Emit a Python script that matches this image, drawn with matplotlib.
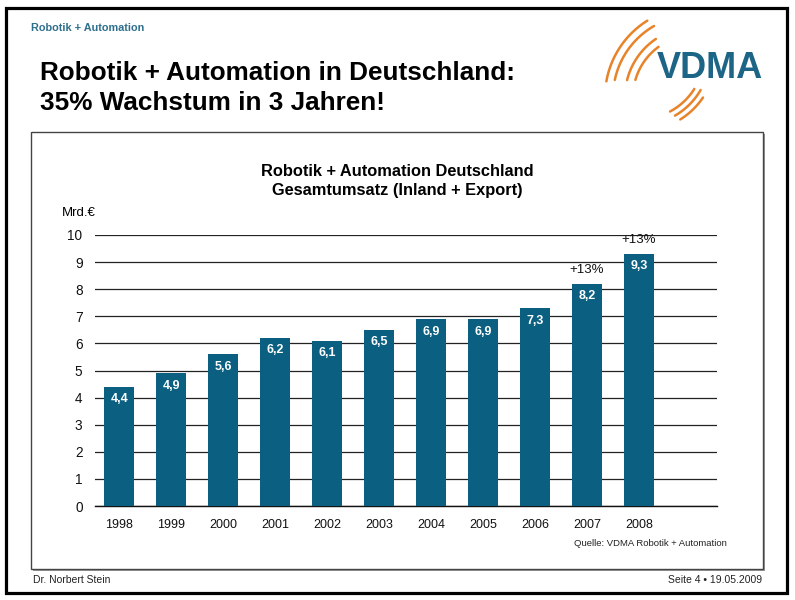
import numpy as np
import matplotlib
matplotlib.use('Agg')
import matplotlib.pyplot as plt
from matplotlib.patches import Rectangle

plt.rcParams['font.family'] = ['Liberation Sans', 'DejaVu Sans']

# data
years = ['1998', '1999', '2000', '2001', '2002', '2003', '2004', '2005', '2006', '2007', '2008']
umsatz = [4.4, 4.9, 5.6, 6.2, 6.1, 6.5, 6.9, 6.9, 7.3, 8.2, 9.3]
growth = {'2007': '+13%', '2008': '+13%'}
y_ticks = list(range(0, 11))

W, H = 795, 600
bar_color = '#0B5F80'
teal = '#2D6F8C'
orange = '#E8832A'

fig = plt.figure(figsize=(W / 100, H / 100), dpi=100)

# overlay in pixel coords for slide decoration
deco = fig.add_axes([0, 0, 1, 1])
deco.set_xlim(0, W)
deco.set_ylim(H, 0)
deco.axis('off')

# outer slide border
deco.add_patch(Rectangle((6, 8), 781, 585, fill=False, edgecolor='black', linewidth=2.3))
# chart frame with shadow
deco.add_patch(Rectangle((33, 134), 732, 437, facecolor='#9a9a9a', edgecolor='none'))
deco.add_patch(Rectangle((31, 132), 732, 437, facecolor='white', edgecolor='#444444', linewidth=1.0))

# header texts
deco.text(31, 28, 'Robotik + Automation', fontsize=7.8, fontweight='bold', color=teal, va='center')
deco.text(40, 73, 'Robotik + Automation in Deutschland:', fontsize=18.8, fontweight='bold', va='center')
deco.text(40, 103, '35% Wachstum in 3 Jahren!', fontsize=18.8, fontweight='bold', va='center')

# VDMA logo
deco.text(710, 69, 'VDMA', fontsize=26, fontweight='bold', color='#1C6586', ha='center', va='center')
for r, a0, a1 in [(90, 122, 170), (82, 120, 168), (70, 124, 166), (62, 126, 164)]:
    t = np.radians(np.linspace(a0, a1, 50))
    deco.plot(695 + r * np.cos(t), 97 - r * np.sin(t), color=orange, lw=1.8, solid_capstyle='round')
for r, a0, a1 in [(64, -62, -32), (70, -60, -30), (76, -58, -34)]:
    t = np.radians(np.linspace(a0, a1, 50))
    deco.plot(640 + r * np.cos(t), 55 - r * np.sin(t), color=orange, lw=1.8, solid_capstyle='round')

# chart titles
deco.text(397, 172, 'Robotik + Automation Deutschland', fontsize=11.8, fontweight='bold', ha='center', va='center')
deco.text(397, 191, 'Gesamtumsatz (Inland + Export)', fontsize=11.8, fontweight='bold', ha='center', va='center')
deco.text(62, 213, 'Mrd.€', fontsize=9.5, va='center')

# footer
deco.text(727, 543, 'Quelle: VDMA Robotik + Automation', fontsize=6.8, ha='right', va='center', color='#222222')
deco.text(33, 580, 'Dr. Norbert Stein', fontsize=7.5, va='center', color='#222222')
deco.text(762, 580, 'Seite 4 • 19.05.2009', fontsize=7.5, ha='right', va='center', color='#222222')

# bar chart
ax = fig.add_axes([95 / W, 1 - 506 / H, (717 - 95) / W, (506 - 235) / H])
ax.patch.set_alpha(0)
x = np.arange(len(years))
bars = ax.bar(x, umsatz, width=0.58, color=bar_color, zorder=3)
ax.set_xlim(-0.47, 11.5)
ax.set_ylim(0, 10)
ax.set_yticks(y_ticks)
ax.set_xticks(x)
ax.set_xticklabels(years)
ax.tick_params(axis='both', length=0, labelsize=9, colors='#111111')
ax.tick_params(axis='y', pad=9, labelsize=9.8)
ax.tick_params(axis='x', pad=9)
for s in ['top', 'right', 'left']:
    ax.spines[s].set_visible(False)
ax.spines['bottom'].set_color('#111111')
ax.spines['bottom'].set_linewidth(1.0)
ax.yaxis.grid(True, color='#222222', linewidth=0.9, zorder=1)

for xi, v, yr in zip(x, umsatz, years):
    ax.annotate(f'{v:.1f}'.replace('.', ','), (xi, v), xytext=(0, -9), textcoords='offset points',
                ha='center', va='center', color='white', fontweight='bold', fontsize=9, zorder=4)
    if yr in growth:
        ax.annotate(growth[yr], (xi, v), xytext=(0, 10), textcoords='offset points',
                    ha='center', va='center', color='#111111', fontsize=9.5, zorder=4)

fig.savefig('out.png', dpi=100)
